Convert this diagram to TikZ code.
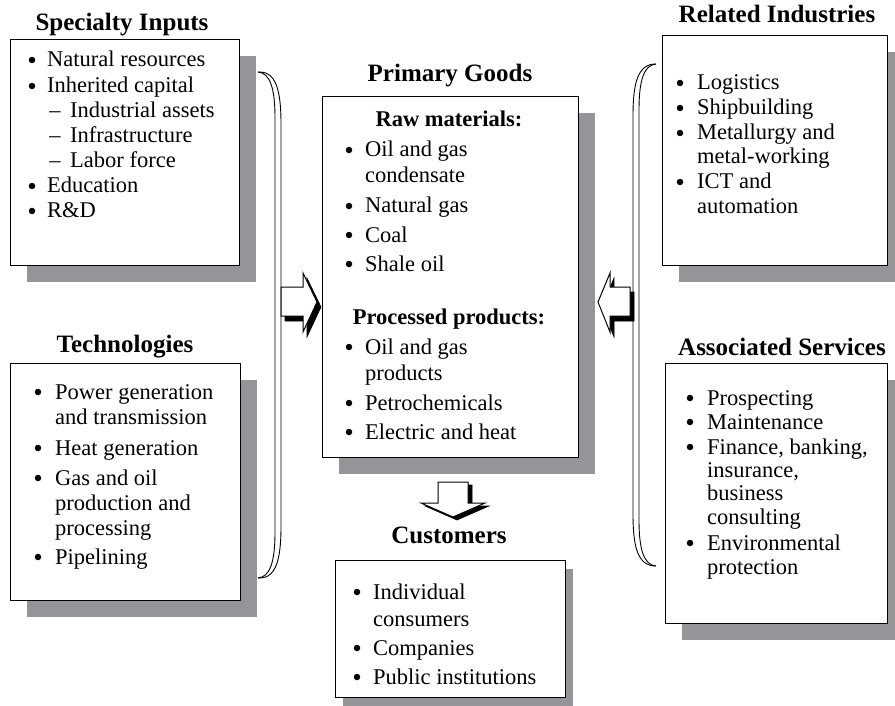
\documentclass[tikz,border=0pt]{standalone}
\usepackage{fontspec}
\setmainfont{Liberation Serif}
\usetikzlibrary{shadows}
\definecolor{shadowgray}{RGB}{147,149,152}
\begin{document}
\begin{tikzpicture}[x=1pt,y=-1pt,
  panel/.style={draw=black, line width=1.1pt, fill=white, anchor=north west, inner sep=0pt,
    drop shadow={shadow xshift=16pt, shadow yshift=-16pt, opacity=1, fill=shadowgray}},
  smallpanel/.style={draw=black, line width=1.1pt, fill=white, anchor=north west, inner sep=0pt,
    drop shadow={shadow xshift=7pt, shadow yshift=-8pt, opacity=1, fill=shadowgray}},
  ttl/.style={font=\fontsize{25}{30}\selectfont\bfseries, anchor=base, inner sep=0pt},
  sub/.style={font=\fontsize{22.5}{25}\selectfont\bfseries, anchor=base, inner sep=0pt},
  item/.style={font=\fontsize{22.5}{25}\selectfont, anchor=base west, inner sep=0pt},
  bul/.style={circle, fill=black, inner sep=0pt, minimum size=6.5pt, yshift=7pt},
  dsh/.style={font=\fontsize{22.5}{25}\selectfont, anchor=base, inner sep=0pt},
  brace/.style={line width=0.9pt},
  blockarrow/.style={draw=black, line width=1pt, fill=white, line join=miter},
  blockshade/.style={fill=black, draw=black, line width=0.6pt}]

\useasboundingbox (0,0) rectangle (895,706);

% ---------- panels ----------
\node[panel, minimum width=229pt, minimum height=226pt] (spec) at (10,39) {};
\node[panel, minimum width=230pt, minimum height=237pt] (tech) at (10,363) {};
\node[panel, minimum width=256pt, minimum height=361pt] (prim) at (322,96) {};
\node[smallpanel, minimum width=230pt, minimum height=137pt] (cust) at (335,560) {};
\node[panel, minimum width=225pt, minimum height=230pt] (rel) at (662,35) {};
\node[panel, minimum width=222pt, minimum height=260pt] (assoc) at (665,363) {};

% ---------- titles ----------
\node[ttl] (specT) at (122,31) {Specialty Inputs};
\node[ttl] (techT) at (125,352) {Technologies};
\node[ttl] (primT) at (450,82) {Primary Goods};
\node[ttl] (custT) at (449,543) {Customers};
\node[ttl] (relT) at (777,23) {Related Industries};
\node[ttl] (assocT) at (782,355) {Associated Services};

% ---------- specialty inputs ----------
\node[bul] (sb1) at (32,67) {};
\node[item] (s1) at (47,67) {Natural resources};
\node[bul] (sb2) at (32,93) {};
\node[item] (s2) at (47,93) {Inherited capital};
\node[dsh] (sd3) at (55,118) {–};
\node[item] (s3) at (70,118) {Industrial assets};
\node[dsh] (sd4) at (55,143) {–};
\node[item] (s4) at (70,143) {Infrastructure};
\node[dsh] (sd5) at (55,168) {–};
\node[item] (s5) at (70,168) {Labor force};
\node[bul] (sb6) at (32,193) {};
\node[item] (s6) at (47,193) {Education};
\node[bul] (sb7) at (32,218) {};
\node[item] (s7) at (47,218) {R\&D};

% ---------- technologies ----------
\node[bul] (tb1) at (38,399) {};
\node[item] (t1) at (55,399) {Power generation};
\node[item] (t2) at (55,424) {and transmission};
\node[bul] (tb3) at (38,455) {};
\node[item] (t3) at (55,455) {Heat generation};
\node[bul] (tb4) at (38,485) {};
\node[item] (t4) at (55,485) {Gas and oil};
\node[item] (t5) at (55,510) {production and};
\node[item] (t6) at (55,535) {processing};
\node[bul] (tb7) at (38,564) {};
\node[item] (t7) at (55,564) {Pipelining};

% ---------- primary goods ----------
\node[sub] (rawT) at (449,127) {Raw materials:};
\node[bul] (pb1) at (349,157) {};
\node[item] (p1) at (365,157) {Oil and gas};
\node[item] (p2) at (365,183) {condensate};
\node[bul] (pb3) at (349,213) {};
\node[item] (p3) at (365,213) {Natural gas};
\node[bul] (pb4) at (349,242) {};
\node[item] (p4) at (365,242) {Coal};
\node[bul] (pb5) at (349,271) {};
\node[item] (p5) at (365,271) {Shale oil};
\node[sub] (procT) at (449,324) {Processed products:};
\node[bul] (qb1) at (349,354) {};
\node[item] (q1) at (365,354) {Oil and gas};
\node[item] (q2) at (365,380) {products};
\node[bul] (qb3) at (349,410) {};
\node[item] (q3) at (365,410) {Petrochemicals};
\node[bul] (qb4) at (349,439) {};
\node[item] (q4) at (365,439) {Electric and heat};

% ---------- customers ----------
\node[bul] (cb1) at (357,599) {};
\node[item] (c1) at (373,599) {Individual};
\node[item] (c2) at (373,626) {consumers};
\node[bul] (cb3) at (357,655) {};
\node[item] (c3) at (373,655) {Companies};
\node[bul] (cb4) at (357,684) {};
\node[item] (c4) at (373,684) {Public institutions};

% ---------- related industries ----------
\node[bul] (rb1) at (680,90) {};
\node[item] (r1) at (697,90) {Logistics};
\node[bul] (rb2) at (680,115) {};
\node[item] (r2) at (697,115) {Shipbuilding};
\node[bul] (rb3) at (680,140) {};
\node[item] (r3) at (697,140) {Metallurgy and};
\node[item] (r4) at (697,164) {metal-working};
\node[bul] (rb5) at (680,189) {};
\node[item] (r5) at (697,189) {ICT and};
\node[item] (r6) at (697,214) {automation};

% ---------- associated services ----------
\node[bul] (ab1) at (690,405) {};
\node[item] (a1) at (707,405) {Prospecting};
\node[bul] (ab2) at (690,429) {};
\node[item] (a2) at (707,429) {Maintenance};
\node[bul] (ab3) at (690,454) {};
\node[item] (a3) at (707,454) {Finance, banking,};
\node[item] (a4) at (707,477) {insurance,};
\node[item] (a5) at (707,500) {business};
\node[item] (a6) at (707,524) {consulting};
\node[bul] (ab7) at (690,550) {};
\node[item] (a7) at (707,550) {Environmental};
\node[item] (a8) at (707,574) {protection};

% ---------- double braces ----------
\draw[brace] (258,72) .. controls (270,73) and (275,88) .. (275,118) -- (275,532)
  .. controls (275,562) and (270,577) .. (258,578);
\draw[brace] (258,72) .. controls (276,71) and (281,90) .. (281,124) -- (281,526)
  .. controls (281,560) and (276,579) .. (258,578);
\draw[brace] (656,64) .. controls (638,64) and (633,82) .. (633,116) -- (633,514)
  .. controls (633,548) and (638,566) .. (656,566);
\draw[brace] (656,64) .. controls (644,65) and (639,80) .. (639,110) -- (639,520)
  .. controls (639,550) and (644,565) .. (656,566);

% ---------- block arrows ----------
\coordinate (inL) at (317,302);
\coordinate (inR) at (598,302);
\coordinate (outD) at (453,517);
% from the left inputs into the primary goods
\fill[blockshade] ([shift={(4,5)}]inL) -- ++(-14,-29) -- ++(0,14) -- ++(-22,0) -- ++(0,29) -- ++(22,0) -- ++(0,16) -- cycle;
\draw[blockarrow] (inL) -- ++(-14,-29) -- ++(0,14) -- ++(-22,0) -- ++(0,29) -- ++(22,0) -- ++(0,16) -- cycle;
% from the right inputs into the primary goods
\fill[blockshade] ([shift={(4,5)}]inR) -- ++(12,-29) -- ++(0,14) -- ++(20,0) -- ++(0,29) -- ++(-20,0) -- ++(0,16) -- cycle;
\draw[blockarrow] (inR) -- ++(12,-29) -- ++(0,14) -- ++(20,0) -- ++(0,29) -- ++(-20,0) -- ++(0,16) -- cycle;
% down to the customers
\fill[blockshade] ([shift={(4,3)}]outD) -- ++(32,-14) -- ++(-17,0) -- ++(0,-21) -- ++(-30,0) -- ++(0,21) -- ++(-17,0) -- cycle;
\draw[blockarrow] (outD) -- ++(32,-14) -- ++(-17,0) -- ++(0,-21) -- ++(-30,0) -- ++(0,21) -- ++(-17,0) -- cycle;

\end{tikzpicture}
\end{document}
